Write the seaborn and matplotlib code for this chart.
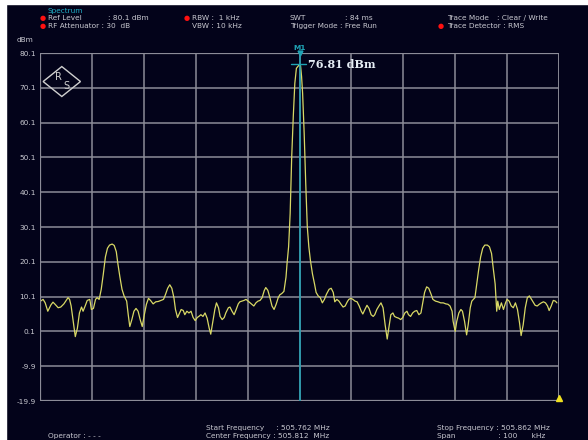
import numpy as np
import pandas as pd
import matplotlib.pyplot as plt
import seaborn as sns
from matplotlib.patches import Polygon, Rectangle

# Dati (offset in kHz dalla frequenza di start, livello in dBm)
start_mhz = 505.762
span_khz = 100
ref_level = 80.1
peak_khz = 50.0
peak_dbm = 76.81

freq_khz = [
    0.1, 0.6, 1.0, 1.5, 2.1, 2.5, 2.9, 3.5, 4.0, 4.6, 5.4, 5.7, 6.0, 6.4, 6.8,
    7.2, 7.6, 8.0, 8.3, 8.7, 9.1, 9.6, 9.9, 10.3, 10.7, 11.0, 11.4, 11.8, 12.2,
    12.6, 13.0, 13.4, 13.9, 14.3, 14.7, 15.0, 15.4, 15.8, 16.2, 16.7,
    17.0, 17.3, 17.7, 18.1, 18.5, 18.9, 19.3, 19.7, 20.1, 20.5, 20.9, 21.3,
    21.8, 22.3, 22.8, 23.3, 23.8, 24.2, 24.6, 25.0, 25.4, 25.8, 26.1, 26.5,
    26.8, 27.2, 27.6, 27.9, 28.3, 28.7, 29.1, 29.5, 29.9, 30.3, 30.6, 31.0,
    31.4, 31.8, 32.2, 32.6, 32.9, 33.3, 33.7,
    34.0, 34.4, 34.7, 35.1, 35.5, 35.8, 36.3, 36.6, 37.0, 37.4, 37.8, 38.2,
    38.5, 38.9, 39.3, 39.7, 40.1, 40.5, 40.8, 41.2, 41.6, 42.0, 42.4, 42.8,
    43.2, 43.5, 43.9, 44.3, 44.7, 45.1, 45.5, 45.9, 46.2, 46.6, 47.0, 47.4,
    47.6, 47.9,
    48.2, 48.5, 48.8, 49.1, 49.4, 50.0, 50.2, 50.4, 50.6, 50.9, 51.2, 51.5,
    51.8, 52.1, 52.5, 52.9, 53.2, 53.6, 54.0, 54.4, 54.8, 55.2, 55.7, 56.1,
    56.5, 56.8, 57.2, 57.6, 58.0, 58.4, 58.8, 59.2, 59.5, 59.9, 60.3, 60.7,
    61.1, 61.5, 61.9, 62.2, 62.6, 63.0, 63.4, 63.8, 64.2, 64.5, 64.9, 65.3,
    65.7, 66.1, 66.5, 66.9, 67.2, 67.6, 68.0, 68.3, 68.7, 69.1, 69.5, 69.9,
    70.3, 70.7, 71.0, 71.4, 71.8, 72.2, 72.6, 73.0, 73.4, 73.7, 74.1, 74.5,
    74.9, 75.3, 75.7, 76.2, 76.7, 77.2, 77.7, 78.2, 78.6, 79.0, 79.4, 79.6,
    80.0, 80.3, 80.7, 81.1, 81.4, 81.8, 82.2, 82.5, 82.9, 83.2, 83.5, 83.8,
    84.1, 84.5, 84.9, 85.3, 85.7, 86.2, 86.6, 87.0, 87.3, 87.7, 88.0, 88.2,
    88.5, 88.9, 89.3, 89.7, 90.0, 90.4, 90.8, 91.2, 91.6, 92.0, 92.4, 92.7,
    93.1, 93.5, 93.9, 94.3, 94.7, 95.1, 95.4, 95.8, 96.2, 96.6, 97.0, 97.4,
    97.8, 98.1, 98.5, 98.9, 99.3, 99.6,
]
level_dbm = [
    8.8, 9.3, 8.3, 5.9, 7.7, 8.5, 7.9, 6.9, 7.1, 8.0, 9.8, 9.3, 7.4, 3.0, -1.4,
    1.0, 5.4, 7.1, 5.9, 7.4, 9.0, 9.3, 6.4, 6.7, 9.3, 9.8, 9.3, 12.2, 16.6,
    21.5, 24.0, 24.9, 25.2, 24.8, 23.0, 19.6, 15.7, 12.2, 10.3, 8.8,
    4.9, 1.5, 3.5, 5.9, 6.7, 5.9, 3.5, 1.5, 4.9, 7.9, 9.6, 9.0,
    8.0, 8.6, 8.7, 9.0, 9.3, 10.8, 12.5, 13.5, 12.5, 9.8, 6.4, 4.1,
    5.1, 6.4, 6.1, 4.9, 5.9, 5.4, 5.9, 4.1, 3.2, 4.1, 4.4, 4.9,
    4.4, 5.4, 3.9, 1.0, -0.7, 3.0, 6.5,
    8.3, 6.9, 4.4, 3.5, 4.1, 5.4, 6.9, 7.1, 5.9, 4.9, 6.4, 8.0,
    8.6, 8.8, 9.0, 9.3, 8.8, 8.3, 7.9, 7.4, 8.3, 8.8, 9.0, 9.8,
    11.8, 12.7, 11.9, 9.8, 7.4, 6.4, 7.9, 9.8, 10.6, 11.0, 11.6, 15.7,
    19.6, 24.4,
    34.0, 50.3, 61.8, 71.4, 75.7, 76.81, 76.5, 73.3, 68.5, 57.0, 42.7, 30.2,
    24.4, 20.5, 16.6, 13.7, 11.3, 10.3, 9.8, 8.3, 9.3, 10.8, 12.2, 12.5,
    11.3, 8.6, 9.3, 8.8, 7.9, 7.1, 7.4, 8.6, 9.3, 9.6, 9.3, 8.8,
    8.6, 7.4, 5.9, 5.1, 6.4, 7.6, 6.7, 4.9, 4.4, 4.9, 6.4, 7.4,
    8.3, 6.9, 2.0, -2.1, 1.0, 4.9, 5.4, 4.4, 4.1, 3.9, 3.5, 4.1,
    5.4, 5.9, 4.9, 4.4, 5.4, 5.9, 6.1, 4.9, 5.4, 7.9, 11.3, 12.9,
    12.5, 11.0, 9.3, 8.8, 8.6, 8.3, 8.3, 8.0, 7.9, 7.4, 5.9, 3.0,
    0.1, 3.0, 5.4, 6.4, 5.9, 3.0, -0.9, 2.0, 6.9, 8.8, 9.3, 9.8,
    13.2, 17.6, 21.5, 24.0, 24.9, 24.9, 24.4, 22.5, 18.6, 13.7, 5.9, 8.8,
    6.4, 8.3, 6.4, 8.3, 9.3, 8.8, 7.4, 6.9, 8.3, 6.4, 2.5, -1.1,
    2.0, 6.9, 9.8, 10.3, 9.3, 8.3, 7.6, 7.4, 7.9, 8.3, 8.6, 8.3,
    7.4, 6.1, 7.4, 9.0, 8.8, 8.3,
]

y_ticks = [ref_level - 10 * i for i in range(11)]
y_labels = [f"{v:.1f}" for v in y_ticks]

df = pd.DataFrame({"freq": freq_khz, "level": level_dbm})

bg = "#03031a"
grid_col = "#8c8c98"
cyan = "#1fa3b5"
yellow = "#d8d865"
txt = "#c8c8d0"

sns.set_style("dark", {"axes.facecolor": bg, "figure.facecolor": bg,
                       "axes.edgecolor": grid_col, "grid.color": grid_col})
plt.rcParams["font.family"] = ["DejaVu Sans"]

fig = plt.figure(figsize=(5.88, 4.4), dpi=100)
fig.patch.set_facecolor(bg)

# bordo bianco in alto e a sinistra come nello screenshot
fig.patches.append(Rectangle((0, 1 - 4 / 440), 1, 4 / 440, transform=fig.transFigure,
                             color="white", zorder=0))
fig.patches.append(Rectangle((0, 0), 6 / 588, 1, transform=fig.transFigure,
                             color="white", zorder=0))

ax = fig.add_axes([40 / 588, 1 - 401 / 440, 519 / 588, 348 / 440])
ax.set_facecolor(bg)

sns.lineplot(data=df, x="freq", y="level", color=yellow, linewidth=0.9, ax=ax)

ax.set_xlim(0, span_khz)
ax.set_ylim(y_ticks[-1], y_ticks[0])
ax.set_xticks(np.arange(0, span_khz + 1, 10))
ax.set_xticklabels([])
ax.set_yticks(y_ticks)
ax.set_yticklabels(y_labels, color=txt, fontsize=5.3)
ax.tick_params(length=0, pad=3)
ax.grid(True, color=grid_col, linewidth=1.1)
ax.set_xlabel("")
ax.set_ylabel("")
for s in ax.spines.values():
    s.set_visible(False)
ax.axhline(y_ticks[0], color=grid_col, lw=1.6)
ax.axhline(y_ticks[-1], color=grid_col, lw=1.6)
ax.axvline(0, color=grid_col, lw=1.6)
ax.axvline(span_khz, color=grid_col, lw=1.1)

# Marker M1
ax.axvline(peak_khz, color=cyan, lw=1.1)
ax.plot([peak_khz - 1.7, peak_khz + 1.3], [peak_dbm, peak_dbm], color=cyan, lw=1.0)
ax.plot([peak_khz], [ref_level], marker="v", color=cyan, ms=3.5, clip_on=False)
ax.text(peak_khz, ref_level + 0.6, "M1", color=cyan, fontsize=5.3,
        ha="center", va="bottom", fontweight="bold")
ax.text(peak_khz + 1.6, peak_dbm, f"{peak_dbm:.2f} dBm", color="#e6eef5",
        fontsize=8, family="DejaVu Serif", fontweight="bold", va="center")
ax.plot([span_khz], [y_ticks[-1] + 1.0], marker="^", color="#f0e020", ms=4,
        clip_on=False)

# Logo R&S
cx, cy, hw, hh = 0.042, 0.918, 0.036, 0.043
ax.add_patch(Polygon([(cx - hw, cy), (cx, cy + hh), (cx + hw, cy), (cx, cy - hh)],
                     closed=True, fill=False, ec="#d0d0d0", lw=1.0,
                     transform=ax.transAxes))
ax.text(cx - 0.006, cy + 0.012, "R", color="#d0d0d0", fontsize=7,
        ha="center", va="center", transform=ax.transAxes)
ax.text(cx + 0.008, cy - 0.014, "S", color="#d0d0d0", fontsize=7,
        ha="center", va="center", transform=ax.transAxes)

# Intestazione e piè di pagina
def ftxt(x, y, s, color=txt, size=5.3):
    fig.text(x / 588, 1 - y / 440, s, color=color, fontsize=size,
             ha="left", va="center")

def dot(x, y):
    fig.text(x / 588, 1 - y / 440, "●", color="#ff1010", fontsize=5,
             ha="center", va="center")

ftxt(48, 11, "Spectrum", color="#20b0c8")
dot(43, 18); ftxt(48, 18, "Ref Level"); ftxt(108, 18, ": 80.1 dBm")
dot(43, 26); ftxt(48, 26, "RF Attenuator : 30  dB")
dot(187, 18); ftxt(192, 18, "RBW :  1 kHz")
ftxt(192, 26, "VBW : 10 kHz")
ftxt(290, 18, "SWT"); ftxt(345, 18, ": 84 ms")
ftxt(290, 26, "Trigger Mode : Free Run")
ftxt(447, 18, "Trace Mode"); ftxt(497, 18, ": Clear / Write")
dot(441, 26); ftxt(447, 26, "Trace Detector : RMS")
ftxt(17, 40, "dBm")

ftxt(206, 428, "Start Frequency     : 505.762 MHz")
ftxt(206, 436, "Center Frequency : 505.812  MHz")
ftxt(48, 436, "Operator : - - -")
ftxt(437, 428, "Stop Frequency : 505.862 MHz")
ftxt(437, 436, "Span                  : 100      kHz")

fig.savefig("out.png", dpi=100, facecolor=bg)
